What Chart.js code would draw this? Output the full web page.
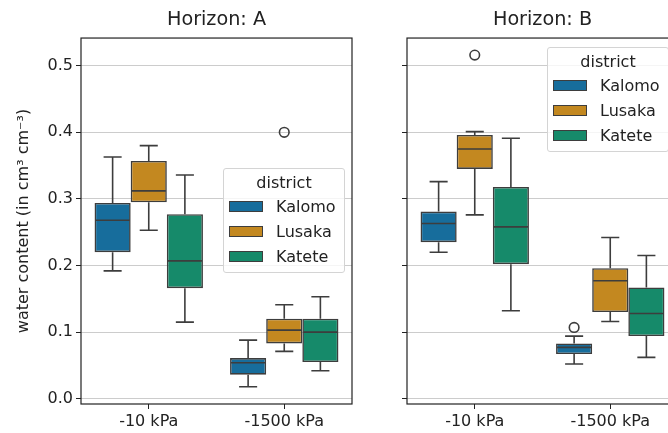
<!DOCTYPE html>
<html>
<head>
<meta charset="utf-8">
<script src="https://cdn.jsdelivr.net/npm/chart.js@4/dist/chart.umd.min.js"></script>
<style>
html,body{margin:0;padding:0;background:#fff;overflow:hidden;width:668px;height:433px;position:relative;}
canvas{position:absolute;top:0;}
#cA{left:0;}
#cB{left:362px;}
.legend{position:absolute;width:120px;height:103px;border:1px solid #d4d4d4;border-radius:3px;background:rgba(255,255,255,0.8);font-family:'DejaVu Sans';font-size:16px;color:#222;z-index:5;}
.legend .lt{position:absolute;left:0;width:100%;text-align:center;line-height:19px;}
.legend .lp{position:absolute;left:5px;width:34px;height:11px;box-sizing:border-box;border:1px solid #3d3d3d;}
.legend .ll{position:absolute;left:52px;line-height:19px;white-space:nowrap;}
</style>
</head>
<body>
<canvas id="cA" width="362" height="433"></canvas>
<canvas id="cB" width="330" height="433"></canvas>
<div id="legA" class="legend" style="left:223px;top:168px;"></div>
<div id="legB" class="legend" style="left:547px;top:47px;"></div>
<script>
// ---- data ----
const districts = ['Kalomo', 'Lusaka', 'Katete'];
const pressures = ['-10 kPa', '-1500 kPa'];
const yTicks = [0, 0.1, 0.2, 0.3, 0.4, 0.5];
const titles = ['Horizon: A', 'Horizon: B'];
const yLabel = 'water content (in cm³ cm⁻³)';
// [lower whisker, Q1, median, Q3, upper whisker] for each pressure
const A_Kalomo = [[0.192, 0.220, 0.268, 0.294, 0.363], [0.018, 0.036, 0.054, 0.061, 0.088]];
const A_Lusaka = [[0.253, 0.295, 0.312, 0.357, 0.380], [0.071, 0.083, 0.103, 0.120, 0.141]];
const A_Katete = [[0.115, 0.166, 0.207, 0.277, 0.336], [0.042, 0.055, 0.100, 0.120, 0.153]];
const B_Kalomo = [[0.220, 0.235, 0.263, 0.281, 0.326], [0.052, 0.067, 0.077, 0.083, 0.094]];
const B_Lusaka = [[0.276, 0.345, 0.375, 0.396, 0.401], [0.116, 0.130, 0.177, 0.196, 0.242]];
const B_Katete = [[0.132, 0.202, 0.258, 0.318, 0.391], [0.062, 0.094, 0.128, 0.167, 0.215]];
// outliers for each pressure
const A_Kalomo_out = [[], []];
const A_Lusaka_out = [[], [0.400]];
const A_Katete_out = [[], []];
const B_Kalomo_out = [[], [0.107]];
const B_Lusaka_out = [[0.516], []];
const B_Katete_out = [[], []];

// ---- style ----
const colors = ['#176d9c', '#c38820', '#168a6a'];
const LINE = '#3d3d3d';
const TXT = '#222222';
const FONT = 'DejaVu Sans';

function boxPlugin(statsList, outList) {
  return {
    id: 'boxplot',
    afterDatasetsDraw(chart) {
      const ctx = chart.ctx, ys = chart.scales.y;
      const py = v => ys.getPixelForValue(v);
      ctx.save();
      ctx.strokeStyle = LINE;
      ctx.lineWidth = 1.6;
      statsList.forEach((stats, d) => {
        const meta = chart.getDatasetMeta(d);
        stats.forEach((s, i) => {
          const el = meta.data[i];
          const x = el.x, w = el.width, cap = w * 0.5;
          ctx.beginPath();
          ctx.moveTo(x, py(s[3])); ctx.lineTo(x, py(s[4]));
          ctx.moveTo(x - cap / 2, py(s[4])); ctx.lineTo(x + cap / 2, py(s[4]));
          ctx.moveTo(x, py(s[1])); ctx.lineTo(x, py(s[0]));
          ctx.moveTo(x - cap / 2, py(s[0])); ctx.lineTo(x + cap / 2, py(s[0]));
          ctx.moveTo(x - w / 2 + 1, py(s[2])); ctx.lineTo(x + w / 2 - 1, py(s[2]));
          ctx.stroke();
          outList[d][i].forEach(v => {
            ctx.beginPath();
            ctx.arc(x, py(v), 4.8, 0, Math.PI * 2);
            ctx.stroke();
          });
        });
      });
      ctx.restore();
    }
  };
}

const framePlugin = {
  id: 'frame',
  afterDraw(chart) {
    const a = chart.chartArea, ctx = chart.ctx;
    ctx.save();
    ctx.strokeStyle = '#222';
    ctx.lineWidth = 1.2;
    ctx.strokeRect(a.left, a.top, a.right - a.left, a.bottom - a.top);
    ctx.restore();
  }
};

function makeChart(id, title, statsList, outList, showLabels, yWidth, padRight) {
  return new Chart(document.getElementById(id), {
    type: 'bar',
    data: {
      labels: pressures,
      datasets: districts.map((name, d) => ({
        label: name,
        data: statsList[d].map(s => [s[1], s[3]]),
        backgroundColor: colors[d],
        borderColor: LINE,
        borderWidth: 1.6,
        borderSkipped: false,
        categoryPercentage: 0.8,
        barPercentage: 1.0
      }))
    },
    options: {
      responsive: false,
      animation: false,
      devicePixelRatio: 1,
      layout: { padding: { left: 0, right: padRight, top: 0, bottom: 0 } },
      plugins: {
        legend: { display: false },
        tooltip: { enabled: false },
        title: {
          display: true, text: title, color: TXT, fullSize: false,
          font: { family: FONT, size: 19.2, weight: 'normal' },
          padding: { top: 8, bottom: 7 }
        }
      },
      scales: {
        x: {
          grid: { display: true, drawOnChartArea: false, drawTicks: true, tickLength: 5, tickColor: '#222', offset: false },
          border: { display: false },
          ticks: { font: { family: FONT, size: 16 }, color: TXT, padding: 3, maxRotation: 0 },
          afterFit(s) { s.height = 29; }
        },
        y: {
          min: -0.008, max: 0.5416,
          afterBuildTicks(s) { s.ticks = yTicks.map(v => ({ value: v })); },
          grid: { color: '#cccccc', lineWidth: 1, tickColor: '#222', tickLength: 5 },
          border: { display: false },
          ticks: { display: showLabels, font: { family: FONT, size: 16 }, color: TXT, padding: 3, callback: v => Number(v).toFixed(1) },
          title: { display: showLabels, text: yLabel, color: TXT, font: { family: FONT, size: 16 }, padding: { top: 14, bottom: 0 } },
          afterFit(s) { s.width = yWidth; }
        }
      }
    },
    plugins: [boxPlugin(statsList, outList), framePlugin]
  });
}

makeChart('cA', titles[0], [A_Kalomo, A_Lusaka, A_Katete], [A_Kalomo_out, A_Lusaka_out, A_Katete_out], true, 81, 10);
makeChart('cB', titles[1], [B_Kalomo, B_Lusaka, B_Katete], [B_Kalomo_out, B_Lusaka_out, B_Katete_out], false, 45, 14);

function buildLegend(id) {
  const el = document.getElementById(id);
  let html = '<div class="lt" style="top:4px;">district</div>';
  districts.forEach((name, d) => {
    const base = 28 + d * 25;
    html += '<div class="lp" style="top:' + (base + 4) + 'px;background:' + colors[d] + ';"></div>';
    html += '<div class="ll" style="top:' + base + 'px;">' + name + '</div>';
  });
  el.innerHTML = html;
}
buildLegend('legA');
buildLegend('legB');
</script>
</body>
</html>
